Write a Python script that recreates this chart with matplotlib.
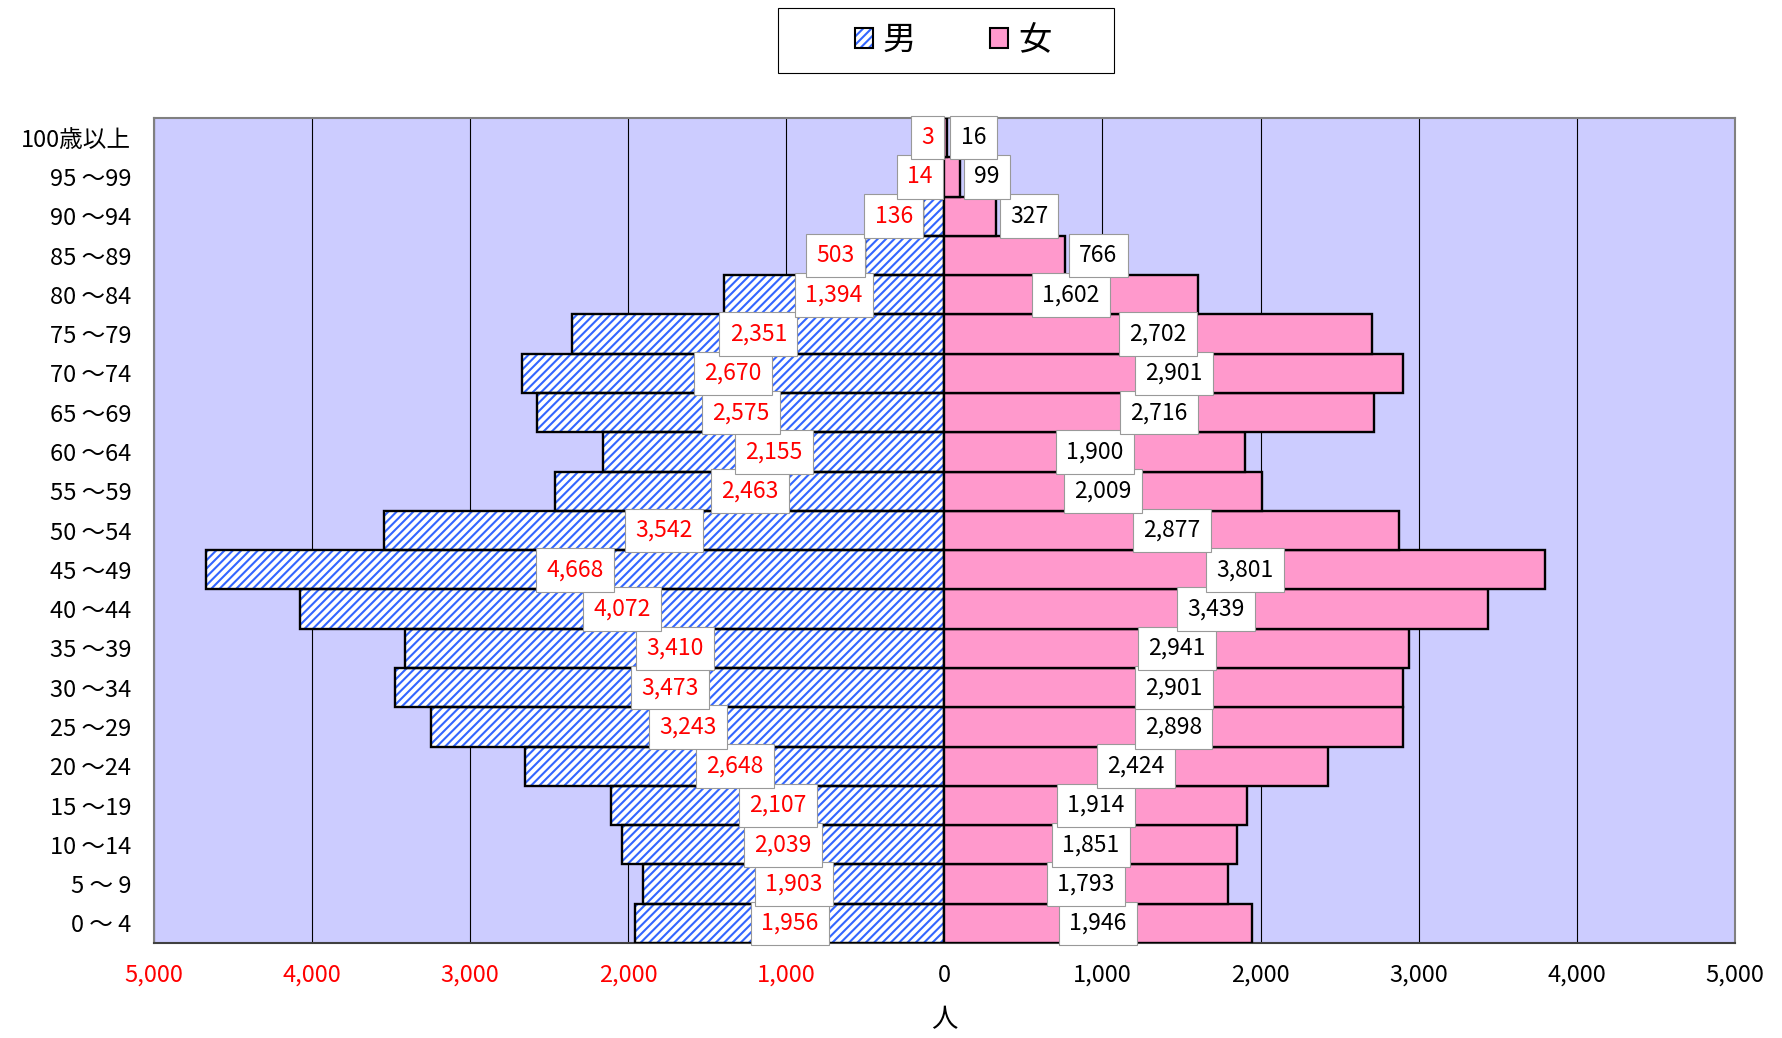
import matplotlib.pyplot as plt
from matplotlib.patches import Patch, Rectangle
from matplotlib.legend_handler import HandlerTuple

plt.rcParams['font.family'] = ['Noto Sans CJK JP', 'DejaVu Sans']
plt.rcParams['hatch.linewidth'] = 1.5

ages = ['0 ～ 4', '5 ～ 9', '10 ～14', '15 ～19', '20 ～24', '25 ～29', '30 ～34',
        '35 ～39', '40 ～44', '45 ～49', '50 ～54', '55 ～59', '60 ～64', '65 ～69',
        '70 ～74', '75 ～79', '80 ～84', '85 ～89', '90 ～94', '95 ～99', '100歳以上']
male = [1956, 1903, 2039, 2107, 2648, 3243, 3473, 3410, 4072, 4668, 3542,
        2463, 2155, 2575, 2670, 2351, 1394, 503, 136, 14, 3]
female = [1946, 1793, 1851, 1914, 2424, 2898, 2901, 2941, 3439, 3801, 2877,
          2009, 1900, 2716, 2901, 2702, 1602, 766, 327, 99, 16]
xticks = [-5000, -4000, -3000, -2000, -1000, 0, 1000, 2000, 3000, 4000, 5000]

blue = '#3366FF'
pink = '#FF99CC'

fig = plt.figure(figsize=(17.83, 10.38), dpi=100)
ax = fig.add_axes([0.0861, 0.0915, 0.887, 0.7948])
ax.set_facecolor('#CCCCFF')

y = list(range(len(ages)))
neg = [-v for v in male]

# male: blue hatch on white, then black outline
ax.barh(y, neg, height=1.0, color='white', edgecolor=blue, hatch='////',
        linewidth=0, zorder=2)
ax.barh(y, neg, height=1.0, fill=False, edgecolor='black', linewidth=1.7, zorder=3)
ax.barh(y, female, height=1.0, color=pink, edgecolor='black', linewidth=1.7, zorder=3)

box = dict(boxstyle='square,pad=0.45', facecolor='white', edgecolor='#999999', linewidth=0.8)
fs = 16.5
for i in y:
    m, f = male[i], female[i]
    if m >= 1000:
        ax.annotate(f'{m:,}', (-m / 2, i), ha='center', va='center', color='red',
                    fontsize=fs, bbox=box, zorder=5)
    else:
        ax.annotate(f'{m:,}', (-m, i), xytext=(-7, 0), textcoords='offset points',
                    ha='right', va='center', color='red', fontsize=fs, bbox=box, zorder=5)
    if f >= 1000:
        ax.annotate(f'{f:,}', (f / 2, i), ha='center', va='center', color='black',
                    fontsize=fs, bbox=box, zorder=5)
    else:
        ax.annotate(f'{f:,}', (f, i), xytext=(10, 0), textcoords='offset points',
                    ha='left', va='center', color='black', fontsize=fs, bbox=box, zorder=5)

ax.set_xlim(-5000, 5000)
ax.set_ylim(-0.5, len(ages) - 0.5)
ax.set_xticks(xticks)
ax.set_xticklabels([f'{abs(t):,}' for t in xticks], fontsize=17)
for t, lab in zip(xticks, ax.get_xticklabels()):
    lab.set_color('red' if t < 0 else 'black')
ax.set_yticks(y)
ax.set_yticklabels(ages, fontsize=17)
ax.tick_params(axis='both', length=0)
ax.tick_params(axis='x', pad=15)
ax.tick_params(axis='y', pad=16)
ax.grid(axis='x', color='black', linewidth=0.8, zorder=1)
ax.set_axisbelow(True)
for s in ax.spines.values():
    s.set_color('#808080')
    s.set_linewidth(1.5)
ax.spines['bottom'].set_color('#404040')
ax.set_xlabel('人', fontsize=19, labelpad=14)

# legend frame drawn as a figure rectangle, entries via fig.legend
fig.patches.append(Rectangle((0.4362, 0.9299), 0.1888, 0.0624, transform=fig.transFigure,
                             facecolor='white', edgecolor='black', linewidth=0.8))
h_m = (Patch(facecolor='white', edgecolor=blue, hatch='////', linewidth=0),
       Patch(fill=False, edgecolor='black', linewidth=1.5))
h_f = Patch(facecolor=pink, edgecolor='black', linewidth=1.5)
fig.legend([h_m, h_f], ['男', '女'], handler_map={tuple: HandlerTuple(ndivide=1)},
           ncol=2, loc='center', bbox_to_anchor=(0.5345, 0.9611), fontsize=24,
           frameon=False, handlelength=0.55, handleheight=0.55, handletextpad=0.3,
           columnspacing=2.2, borderpad=0, borderaxespad=0)

fig.savefig('out.png', dpi=100)
